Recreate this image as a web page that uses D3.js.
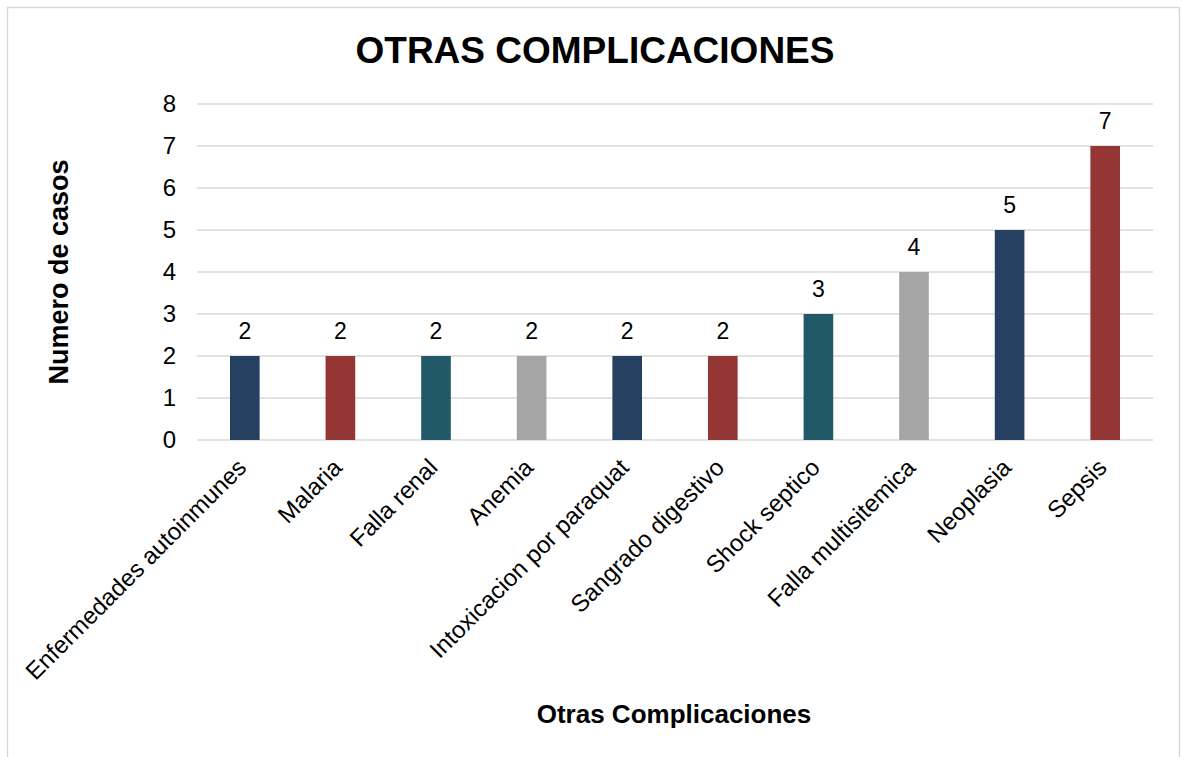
<!DOCTYPE html>
<html>
<head>
<meta charset="utf-8">
<script src="https://cdn.jsdelivr.net/npm/d3@7"></script>
<style>
  body { margin: 0; background: #fff; }
  text { font-family: "Liberation Sans", Arial, sans-serif; fill: #000; }
</style>
</head>
<body>
<div id="chart"></div>
<script>
// datos del grafico
var categorias = ["Enfermedades autoinmunes", "Malaria", "Falla renal", "Anemia",
  "Intoxicacion por paraquat", "Sangrado digestivo", "Shock septico",
  "Falla multisitemica", "Neoplasia", "Sepsis"];
var casos = [2, 2, 2, 2, 2, 2, 3, 4, 5, 7];
var yTicks = [0, 1, 2, 3, 4, 5, 6, 7, 8];
var colores = ["#254061", "#943634", "#215968", "#a5a5a5"];

var data = categorias.map(function(c, i) { return { cat: c, val: casos[i] }; });

var W = 1181, H = 757;
var margin = { top: 104, right: 28, bottom: 317, left: 197 },
  width = W - margin.left - margin.right,
  height = H - margin.top - margin.bottom;

var root = d3.select("#chart").append("svg")
  .attr("width", W).attr("height", H);

// borde del area del grafico
root.append("rect")
  .attr("x", 7.5).attr("y", 7.5)
  .attr("width", 1172).attr("height", 760)
  .attr("fill", "none").attr("stroke", "#d9d9d9").attr("stroke-width", 1.5);

var svg = root.append("g")
  .attr("transform", "translate(" + margin.left + "," + margin.top + ")");

var x = d3.scaleBand()
  .domain(categorias)
  .range([0, width])
  .paddingInner(0.69)
  .paddingOuter(0.345);

var y = d3.scaleLinear()
  .domain([0, 8])
  .range([height, 0]);

// lineas de cuadricula
svg.selectAll(".grid")
  .data(yTicks)
  .enter().append("line")
  .attr("x1", 0).attr("x2", width)
  .attr("y1", function(d) { return y(d); })
  .attr("y2", function(d) { return y(d); })
  .attr("stroke", "#d9d9d9").attr("stroke-width", 1.5);

// eje y
var yAxis = svg.append("g")
  .call(d3.axisLeft(y).tickValues(yTicks).tickSize(0).tickPadding(21));
yAxis.select(".domain").remove();
yAxis.selectAll("text").attr("font-size", "24px").attr("font-family", "Liberation Sans, Arial, sans-serif");

// barras
svg.selectAll(".bar")
  .data(data)
  .enter().append("rect")
  .attr("class", "bar")
  .attr("x", function(d) { return x(d.cat); })
  .attr("y", function(d) { return y(d.val); })
  .attr("width", x.bandwidth())
  .attr("height", function(d) { return height - y(d.val); })
  .attr("fill", function(d, i) { return colores[i % 4]; });

// etiquetas de valores
svg.selectAll(".label")
  .data(data)
  .enter().append("text")
  .attr("class", "label")
  .attr("x", function(d) { return x(d.cat) + x.bandwidth() / 2; })
  .attr("y", function(d) { return y(d.val) - 17; })
  .attr("text-anchor", "middle")
  .attr("font-size", "23px")
  .text(function(d) { return d.val; });

// eje x, etiquetas rotadas
var xAxis = svg.append("g")
  .attr("transform", "translate(0," + height + ")")
  .call(d3.axisBottom(x).tickSize(0).tickPadding(0));
xAxis.select(".domain").remove();
xAxis.selectAll("text")
  .attr("font-size", "24px")
  .attr("font-family", "Liberation Sans, Arial, sans-serif")
  .attr("dy", null).attr("y", 0)
  .attr("text-anchor", "end")
  .attr("transform", "translate(3,29) rotate(-45)");

// titulo
root.append("text")
  .attr("x", 595).attr("y", 63)
  .attr("text-anchor", "middle")
  .attr("font-size", "37px").attr("font-weight", "bold")
  .text("OTRAS COMPLICACIONES");

// titulos de ejes
root.append("text")
  .attr("transform", "translate(68," + 272 + ") rotate(-90)")
  .attr("text-anchor", "middle")
  .attr("font-size", "27px").attr("font-weight", "bold")
  .text("Numero de casos");

root.append("text")
  .attr("x", 674).attr("y", 723)
  .attr("text-anchor", "middle")
  .attr("font-size", "26px").attr("font-weight", "bold")
  .text("Otras Complicaciones");
</script>
</body>
</html>
